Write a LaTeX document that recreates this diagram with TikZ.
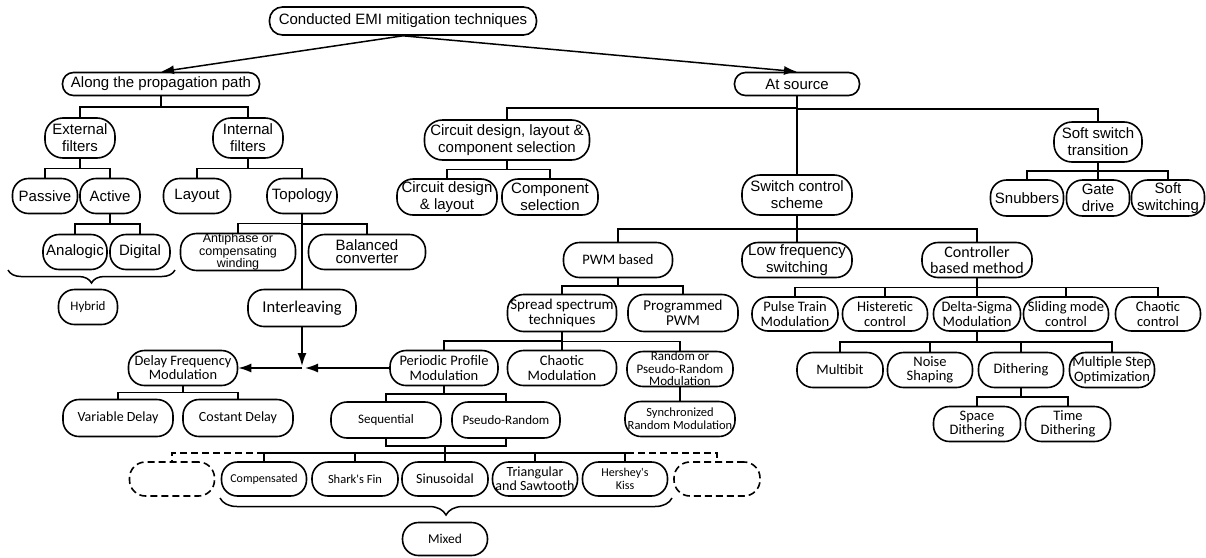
\documentclass[tikz,border=0pt]{standalone}
\usepackage{fontspec}
\newfontfamily\ar{Liberation Sans}
\newfontfamily\cb{Carlito}
\usetikzlibrary{arrows.meta,calc,decorations.pathreplacing}
\begin{document}
\begin{tikzpicture}[x=1pt,y=-1pt,
  box/.style={draw, line width=1.6pt, rounded corners=16pt, align=center, inner sep=0pt},
  wh/.style 2 args={minimum width=#1pt, minimum height=#2pt},
  A/.style={box, font=\ar\fontsize{15}{17}\selectfont},
  C/.style={box, font=\cb\fontsize{14.5}{14.5}\selectfont},
  Cs/.style={box, font=\cb\fontsize{12.5}{13}\selectfont},
  dsh/.style={box, dash pattern=on 7pt off 4pt},
  conn/.style={line width=1.5pt},
  arr/.style={conn, -{Latex[length=13pt,width=9pt]}},
  elbow/.style={to path={|- ($(\tikztostart)!0.5!(\tikztotarget)$) -| (\tikztotarget)}},
  brc/.style={conn, decorate, decoration={brace, amplitude=#1, mirror}}
]
\fill[white] (0,0) rectangle (1206,557);
\useasboundingbox (0,0) rectangle (1206,557);

% ---- top levels
\node[A, wh={267}{28}, rounded corners=13pt] (top) at (403,21) {Conducted EMI mitigation techniques};
\node[A, wh={197}{23}, rounded corners=11pt] (along) at (161,84) {Along the propagation path};
\node[A, wh={125}{23}, rounded corners=11pt] (src) at (797,84) {At source};

% ---- propagation path branch
\node[A, wh={70}{40}, rounded corners=18pt] (ext) at (80,138) {External\\filters};
\node[A, wh={70}{40}, rounded corners=18pt] (int) at (248,138) {Internal\\filters};
\node[A, wh={65}{35}] (pas) at (45,196) {Passive};
\node[A, wh={60}{35}] (act) at (110,196) {Active};
\node[A, wh={67}{35}] (lay) at (197,196) {Layout};
\node[A, wh={70}{35}] (topo) at (302,196) {Topology};
\node[A, wh={64}{35}] (ana) at (75,252) {Analogic};
\node[A, wh={60}{35}] (dig) at (140,252) {Digital};
\node[Cs, wh={59}{35}, font=\cb\fontsize{13}{13}\selectfont] (hyb) at (88,307) {Hybrid};
\node[A, wh={115}{35}, font=\ar\fontsize{12.5}{11}\selectfont] (anti) at (238,252) {Antiphase or\\compensating\\winding};
\node[A, wh={117}{35}, font=\ar\fontsize{15}{13}\selectfont] (bal) at (367,252) {Balanced\\converter};
\node[C, wh={108}{37}, font=\cb\fontsize{16.5}{17}\selectfont] (inter) at (302,308) {Interleaving};
\node[C, wh={109}{35}, font=\cb\fontsize{14.4}{14}\selectfont] (dfm) at (183,368) {Delay Frequency\\Modulation};
\node[C, wh={110}{37}, font=\cb\fontsize{14}{14}\selectfont] (vd) at (118,418) {Variable Delay};
\node[C, wh={110}{37}, font=\cb\fontsize{14}{14}\selectfont] (cd) at (238,418) {Costant Delay};

% ---- at source branch
\node[A, wh={165}{40}, rounded corners=18pt] (cir) at (507,140) {Circuit design, layout \&\\component selection};
\node[A, wh={100}{36}] (cdl) at (447,197) {Circuit design\\\& layout};
\node[A, wh={96}{36}] (cs) at (550,197) {Component\\selection};
\node[A, wh={110}{40}, rounded corners=18pt] (scs) at (797,195) {Switch control\\scheme};
\node[A, wh={88}{40}, rounded corners=18pt] (sst) at (1098,142) {Soft switch\\transition};
\node[A, wh={73}{36}] (snu) at (1027,198) {Snubbers};
\node[A, wh={63}{36}] (gat) at (1098,198) {Gate\\drive};
\node[A, wh={73}{36}] (sosw) at (1168,198) {Soft\\switching};

\node[C, wh={109}{35}] (pwm) at (618,260) {PWM based};
\node[A, wh={110}{35}] (lfs) at (797,260) {Low frequency\\switching};
\node[C, wh={110}{35}, font=\cb\fontsize{16}{16}\selectfont] (cbm) at (977,260) {Controller\\based method};

\node[C, wh={109}{37}, font=\cb\fontsize{15}{15}\selectfont] (spr) at (562,313) {Spread spectrum\\techniques};
\node[C, wh={110}{37}, font=\cb\fontsize{15}{15}\selectfont] (ppwm) at (683,313) {Programmed\\PWM};

\node[C, wh={86}{34}] (ptm) at (795,314) {Pulse Train\\Modulation};
\node[C, wh={85}{34}] (his) at (885,314) {Histeretic\\control};
\node[C, wh={87}{34}] (dsm) at (977,314) {Delta-Sigma\\Modulation};
\node[C, wh={85}{34}] (smc) at (1066,314) {Sliding mode\\control};
\node[C, wh={85}{34}] (chc) at (1158,314) {Chaotic\\control};

\node[C, wh={86}{35}] (mb) at (840,370) {Multibit};
\node[C, wh={85}{35}] (ns) at (930,370) {Noise\\Shaping};
\node[C, wh={85}{35}] (dit) at (1021,370) {Dithering};
\node[C, wh={85}{35}] (mso) at (1112,370) {Multiple Step\\Optimization};
\node[C, wh={87}{35}] (spd) at (977,424) {Space\\Dithering};
\node[C, wh={85}{35}] (tid) at (1068,424) {Time\\Dithering};

\node[C, wh={108}{35}] (ppm) at (444,368) {Periodic Profile\\Modulation};
\node[C, wh={109}{35}] (chm) at (562,368) {Chaotic\\Modulation};
\node[Cs, wh={106}{35}, font=\cb\fontsize{13}{12.5}\selectfont] (rnd) at (680,369) {Random or\\Pseudo-Random\\Modulation};
\node[Cs, wh={110}{35}] (syn) at (680,419) {Synchronized\\Random Modulation};
\node[Cs, wh={110}{36}, font=\cb\fontsize{13}{13}\selectfont] (seq) at (386,420) {Sequential};
\node[Cs, wh={108}{36}, font=\cb\fontsize{13}{13}\selectfont] (psr) at (506,420) {Pseudo-Random};

\node[dsh, wh={85}{34}] (dl) at (172,479) {};
\node[Cs, wh={85}{34}, font=\cb\fontsize{12}{12}\selectfont] (comp) at (264,479) {Compensated};
\node[Cs, wh={86}{34}] (shf) at (355,479) {Shark's Fin};
\node[C, wh={86}{34}, font=\cb\fontsize{14}{14}\selectfont] (sin) at (445,479) {Sinusoidal};
\node[C, wh={85}{34}, font=\cb\fontsize{14}{14}\selectfont] (tri) at (535,479) {Triangular\\and Sawtooth};
\node[Cs, wh={85}{34}, font=\cb\fontsize{12}{13}\selectfont] (hk) at (625,479) {Hershey's\\Kiss};
\node[dsh, wh={86}{34}] (dr) at (717,479) {};
\node[C, wh={85}{33}, font=\cb\fontsize{13.5}{13.5}\selectfont] (mix) at (445,539) {Mixed};

% ---- connectors
\draw[arr] (top.south) -- (along.north);
\draw[arr] (top.south) -- (src.north);

\draw[conn] (along.south) to[elbow] (ext.north);
\draw[conn] (along.south) to[elbow] (int.north);
\draw[conn] (ext.south) to[elbow] (pas.north);
\draw[conn] (ext.south) to[elbow] (act.north);
\draw[conn] (int.south) to[elbow] (lay.north);
\draw[conn] (int.south) to[elbow] (topo.north);
\draw[conn] (act.south) to[elbow] (ana.north);
\draw[conn] (act.south) to[elbow] (dig.north);
\draw[conn] (topo.south) to[elbow] (anti.north);
\draw[conn] (topo.south) to[elbow] (bal.north);
\draw[conn] (topo.south) -- (inter.north);
\draw[conn] (dfm.south) to[elbow] (vd.north);
\draw[conn] (dfm.south) to[elbow] (cd.north);

\coordinate (jd) at (302,366);
\coordinate (jr) at (305,368);
\coordinate (jl) at (302,368);
\draw[arr] (inter.south) -- (jd);
\draw[arr] (ppm.west) -- (jr);
\draw[arr] (jl) -- (dfm.east);

\draw[conn] (src.south) to[elbow] (cir.north);
\draw[conn] (src.south) to[elbow] (sst.north);
\draw[conn] (src.south) -- (scs.north);
\draw[conn] (cir.south) to[elbow] (cdl.north);
\draw[conn] (cir.south) to[elbow] (cs.north);
\draw[conn] (sst.south) to[elbow] (snu.north);
\draw[conn] (sst.south) to[elbow] (gat.north);
\draw[conn] (sst.south) to[elbow] (sosw.north);
\draw[conn] (scs.south) to[elbow] (pwm.north);
\draw[conn] (scs.south) -- (lfs.north);
\draw[conn] (scs.south) to[elbow] (cbm.north);
\draw[conn] (pwm.south) to[elbow] (spr.north);
\draw[conn] (pwm.south) to[elbow] (ppwm.north);
\draw[conn] (cbm.south) to[elbow] (ptm.north);
\draw[conn] (cbm.south) to[elbow] (his.north);
\draw[conn] (cbm.south) to[elbow] (dsm.north);
\draw[conn] (cbm.south) to[elbow] (smc.north);
\draw[conn] (cbm.south) to[elbow] (chc.north);
\draw[conn] (dsm.south) to[elbow] (mb.north);
\draw[conn] (dsm.south) to[elbow] (ns.north);
\draw[conn] (dsm.south) to[elbow] (dit.north);
\draw[conn] (dsm.south) to[elbow] (mso.north);
\draw[conn] (dit.south) to[elbow] (spd.north);
\draw[conn] (dit.south) to[elbow] (tid.north);
\draw[conn] (spr.south) to[elbow] (ppm.north);
\draw[conn] (spr.south) to[elbow] (chm.north);
\draw[conn] (spr.south) to[elbow] (rnd.north);
\draw[conn] (rnd.south) -- (syn.north);
\draw[conn] (ppm.south) to[elbow] (seq.north);
\draw[conn] (ppm.south) to[elbow] (psr.north);

\coordinate (jn) at (445,446);
\coordinate (busL) at (264,453);
\coordinate (busR) at (627,453);
\draw[conn] (seq.south) |- (jn) -| (psr.south);
\draw[conn] (jn) -- (sin.north);
\draw[conn] (busL) -- (busR);
\draw[conn] (comp.north) -- (comp.north |- busL);
\draw[conn] (shf.north) -- (shf.north |- busL);
\draw[conn] (tri.north) -- (tri.north |- busL);
\draw[conn] (hk.north) -- (hk.north |- busL);
\draw[conn, dash pattern=on 7pt off 4pt] (busL) -| (dl.north);
\draw[conn, dash pattern=on 7pt off 4pt] (busR) -| (dr.north);

% ---- braces
\draw[brc=13pt] (8,270) -- (175,270);
\draw[brc=17pt] (220,498) -- (672,498);
\end{tikzpicture}
\end{document}
